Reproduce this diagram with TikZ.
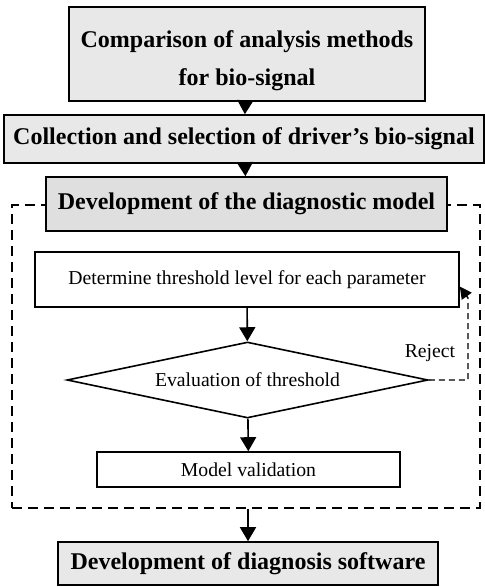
\documentclass[tikz,border=0pt]{standalone}
\usepackage{fontspec}
\setmainfont{Liberation Serif}
\usetikzlibrary{arrows.meta, positioning, shapes.geometric}

\begin{document}
\begin{tikzpicture}[x=1pt, y=-1pt,
    titlebox/.style={draw, line width=1.6pt, fill=gray!18, align=center, inner sep=0pt,
        font=\fontsize{24}{38}\selectfont\bfseries},
    stepbox/.style={draw, line width=1.6pt, fill=white, inner sep=0pt,
        font=\fontsize{19.7}{22}\selectfont},
    frame/.style={draw, line width=2.4pt, dash pattern=on 10pt off 6pt, inner sep=0pt},
    arr/.style={-{Triangle[width=16pt,length=14pt]}, line width=1.6pt},
    rejectline/.style={line width=1.4pt, dash pattern=on 6pt off 4pt,
        -{Triangle[width=12pt,length=12pt]}}]
    \useasboundingbox (0,0) rectangle (485,587);

    % Dashed frame round the model
    \node[frame, minimum width=468, minimum height=303] (model) at (246,356.5) {};

    % Main boxes
    \node[titlebox, minimum width=356, minimum height=94] (comp) at (247,54)
        {\rule{0pt}{30pt}Comparison of analysis methods\\for bio-signal};
    \node[titlebox, minimum width=480, minimum height=48] (coll) at (244,139)
        {Collection and selection of driver's bio-signal};
    \node[titlebox, fill=gray!25, minimum width=401, minimum height=54] (devm) at (246.5,204)
        {Development of the diagnostic model};
    \node[titlebox, minimum width=380, minimum height=43] (soft) at (248,563.5)
        {Development of diagnosis software};

    % Inside the frame
    \node[stepbox, minimum width=424, minimum height=55] (thr) at (247,279.5)
        {Determine threshold level for each parameter};
    \node[stepbox, diamond, shape aspect=4.75, minimum width=361, minimum height=76] (eval) at (247.5,380)
        {Evaluation of threshold};
    \node[stepbox, minimum width=303, minimum height=35] (valid) at (248.5,469.5)
        {Model validation};

    % Arrows
    \draw[arr] (comp) -- (coll);
    \draw[arr] (coll) -- (devm);
    \draw[arr] (thr) -- (eval);
    \draw[arr] (eval) -- (valid);
    \draw[arr] (model.south -| soft.north) -- (soft);

    % Reject loop
    \coordinate (rj) at (468,380);
    \coordinate (rjtop) at (468,298);
    \draw[rejectline] (eval.east) -- (rj) -- (rjtop) -- ([yshift=-7pt]thr.east);
    \node[font=\fontsize{19.7}{22}\selectfont] (rejlab) at (430,353) {Reject};
\end{tikzpicture}
\end{document}
